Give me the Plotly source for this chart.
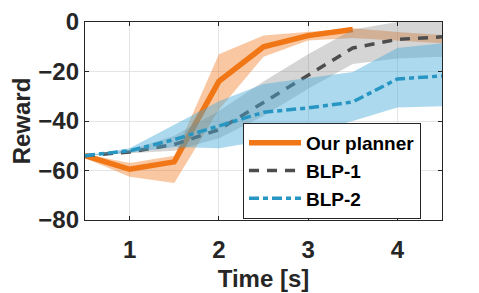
import plotly.graph_objects as go

t = [0.5, 1.0, 1.5, 2.0, 2.5, 3.0, 3.5, 4.0, 4.5]

ours_mean = [-54, -59.5, -56.5, -24, -10, -5.5, -3, None, None]
ours_upper = [-53.3, -57, -54, -13, -5.5, -4, -2.5, -4, -5.3]
ours_lower = [-55, -62.5, -65, -35.5, -14, -7.5, -6.5, -7.5, -8.6]

blp1_mean = [-54, -52.5, -49.5, -43.5, -32.5, -21.5, -10.5, -7, -6]
blp1_upper = [-54, -51.8, -46, -36, -24, -13, -3, 0, 0]
blp1_lower = [-54, -53, -52, -47, -38, -27, -17, -14.7, -14]

blp2_mean = [-54, -52, -47.5, -42, -36.5, -34.7, -32.3, -23, -21.8]
blp2_upper = [-54, -51, -41.5, -32, -25, -22.5, -20.2, -10.5, -8.6]
blp2_lower = [-54, -52.8, -50.5, -51, -48, -45, -40, -34.5, -34]

x_ticks = [1, 2, 3, 4]
y_ticks = [-80, -60, -40, -20, 0]

series = [
    ("Our planner", ours_mean, ours_upper, ours_lower,
     "rgb(240,118,22)", "rgba(240,118,22,0.40)", "solid", 5.5),
    ("BLP-1", blp1_mean, blp1_upper, blp1_lower,
     "rgb(77,77,77)", "rgba(128,128,128,0.33)", "10px,8px", 3.5),
    ("BLP-2", blp2_mean, blp2_upper, blp2_lower,
     "rgb(40,150,195)", "rgba(70,170,215,0.45)", "10px,4px,5px,4px", 3.5),
]

fig = go.Figure()
for name, mean, up, lo, lc, fc, dash, w in series:
    fig.add_trace(go.Scatter(x=t, y=up, mode="lines", line=dict(width=0),
                             hoverinfo="skip", showlegend=False))
    fig.add_trace(go.Scatter(x=t, y=lo, mode="lines", line=dict(width=0),
                             fill="tonexty", fillcolor=fc,
                             hoverinfo="skip", showlegend=False))
    fig.add_trace(go.Scatter(x=t, y=mean, mode="lines", name=name,
                             line=dict(color=lc, width=w, dash=dash)))

font_family = "Liberation Sans, Arial, Helvetica, sans-serif"
axis_color = "rgb(38,38,38)"

fig.update_layout(
    width=479, height=293,
    margin=dict(l=77, r=45, t=14, b=81),
    paper_bgcolor="white", plot_bgcolor="white",
    font=dict(family=font_family, size=24, color=axis_color, weight="bold"),
    legend=dict(
        x=0.4426, y=0.49, xanchor="left", yanchor="top",
        bgcolor="white", bordercolor=axis_color, borderwidth=1,
        font=dict(family=font_family, size=19, color="black", weight="bold"),
        tracegroupgap=0, traceorder="normal", itemwidth=52,
    ),
    xaxis=dict(
        range=[0.5, 4.5], tickvals=x_ticks, ticktext=[str(v) for v in x_ticks],
        showgrid=True, gridcolor="rgb(228,228,228)", gridwidth=1,
        showline=True, linecolor=axis_color, linewidth=1.3, mirror="allticks",
        ticks="inside", ticklen=4, tickcolor=axis_color,
        zeroline=False, automargin=False, ticklabelstandoff=8,
        title=dict(text="Time [s]", font=dict(size=24, weight="bold"), standoff=8),
    ),
    yaxis=dict(
        range=[-80, 0], tickvals=y_ticks,
        showgrid=True, gridcolor="rgb(228,228,228)", gridwidth=1,
        showline=True, linecolor=axis_color, linewidth=1.3, mirror="allticks",
        ticks="inside", ticklen=4, tickcolor=axis_color,
        zeroline=False, automargin=False,
        title=dict(text="Reward", font=dict(size=24, weight="bold"), standoff=6),
    ),
)

fig.write_html("out.html")
